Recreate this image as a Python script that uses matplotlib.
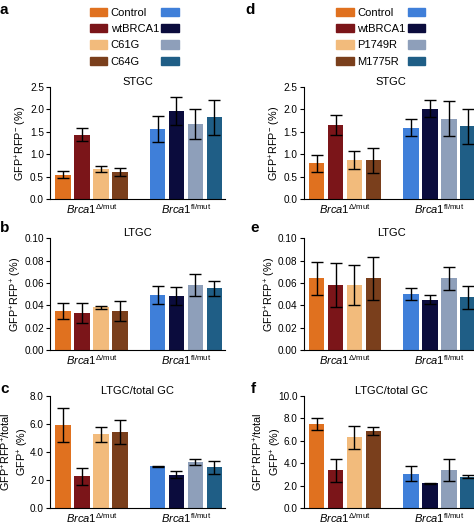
import matplotlib
matplotlib.use("Agg")
import matplotlib.pyplot as plt
from matplotlib.patches import Patch
import numpy as np

plt.rcParams['font.family'] = ['Liberation Sans', 'DejaVu Sans']
plt.rcParams['mathtext.fontset'] = 'custom'
plt.rcParams['mathtext.rm'] = 'Liberation Sans'
plt.rcParams['mathtext.it'] = 'Liberation Sans:italic'
plt.rcParams['font.size'] = 8

colors = ['#e0711f', '#7b1519', '#f2bb7c', '#7a3f1c',
          '#3f7fd9', '#0b0c3d', '#8e9fba', '#1f5e86']
blues_colors = colors[4:]
groups = [r'$\mathit{Brca1}^{\Delta/\mathrm{mut}}$', r'$\mathit{Brca1}^{\mathrm{fl/mut}}$']

legend_left = ['Control', 'wtBRCA1', 'C61G', 'C64G']
legend_right = ['Control', 'wtBRCA1', 'P1749R', 'M1775R']

# left column (a, b, c)
stgc_a = [0.55, 1.44, 0.68, 0.60, 1.57, 1.96, 1.68, 1.83]
stgc_a_err = [0.07, 0.15, 0.07, 0.09, 0.29, 0.31, 0.34, 0.39]
ltgc_b = [0.035, 0.033, 0.038, 0.035, 0.049, 0.048, 0.058, 0.055]
ltgc_b_err = [0.007, 0.009, 0.001, 0.009, 0.008, 0.008, 0.010, 0.007]
ratio_c = [5.9, 2.25, 5.25, 5.4, 2.98, 2.38, 3.3, 2.9]
ratio_c_err = [1.2, 0.62, 0.55, 0.85, 0.05, 0.25, 0.2, 0.45]

# right column (d, e, f)
stgc_d = [0.80, 1.65, 0.87, 0.87, 1.59, 2.02, 1.79, 1.62]
stgc_d_err = [0.19, 0.22, 0.20, 0.28, 0.19, 0.20, 0.39, 0.39]
ltgc_e = [0.064, 0.058, 0.058, 0.064, 0.050, 0.045, 0.064, 0.047]
ltgc_e_err = [0.015, 0.020, 0.018, 0.019, 0.005, 0.004, 0.010, 0.010]
ratio_f = [7.47, 3.35, 6.3, 6.85, 3.05, 2.2, 3.4, 2.8]
ratio_f_err = [0.52, 1.0, 1.0, 0.37, 0.68, 0.05, 0.95, 0.12]

ylab_stgc = 'GFP$^{+}$RFP$^{-}$ (%)'
ylab_ltgc = 'GFP$^{+}$RFP$^{+}$ (%)'
ylab_ratio = 'GFP$^{+}$RFP$^{+}$/total\nGFP$^{+}$ (%)'

xpos = np.array([0, 1, 2, 3, 5, 6, 7, 8])

fig = plt.figure(figsize=(4.74, 5.27), dpi=100)


def panel(rect, vals, errs, ymax, yticks, fmt, title, ylab, labx):
    ax = fig.add_axes(rect)
    ax.bar(xpos, vals, width=0.82, color=colors, yerr=errs,
           error_kw=dict(ecolor='black', elinewidth=1.0, capsize=4, capthick=1.0))
    ax.set_xlim(-0.68, 8.55)
    ax.set_ylim(0, ymax)
    ax.set_yticks(yticks)
    ax.set_yticklabels([fmt.format(t) for t in yticks])
    ax.spines['top'].set_visible(False)
    ax.spines['right'].set_visible(False)
    ax.set_xticks([1.5, 6.5])
    ax.set_xticklabels(groups, fontsize=8)
    ax.tick_params(axis='x', length=0, pad=2)
    ax.tick_params(axis='y', length=3, pad=1.5, labelsize=7.2)
    ax.set_title(title, fontsize=8, pad=1)
    ax.set_ylabel(ylab, fontsize=7.8, linespacing=1.3)
    ax.yaxis.set_label_coords(labx, 0.5)
    return ax


L1, L2, W = 0.106, 0.641, 0.368
panel([L1, 0.622, W, 0.213], stgc_a, stgc_a_err, 2.5, [0, 0.5, 1.0, 1.5, 2.0, 2.5], '{:.1f}', 'STGC', ylab_stgc, -0.12)
panel([L1, 0.336, W, 0.212], ltgc_b, ltgc_b_err, 0.10, [0, 0.02, 0.04, 0.06, 0.08, 0.10], '{:.2f}', 'LTGC', ylab_ltgc, -0.15)
panel([L1, 0.036, W, 0.213], ratio_c, ratio_c_err, 8.0, [0, 2, 4, 6, 8], '{:.1f}', 'LTGC/total GC', ylab_ratio, -0.108)
panel([L2, 0.622, W, 0.213], stgc_d, stgc_d_err, 2.5, [0, 0.5, 1.0, 1.5, 2.0, 2.5], '{:.1f}', 'STGC', ylab_stgc, -0.12)
panel([L2, 0.336, W, 0.212], ltgc_e, ltgc_e_err, 0.10, [0, 0.02, 0.04, 0.06, 0.08, 0.10], '{:.2f}', 'LTGC', ylab_ltgc, -0.15)
panel([L2, 0.036, W, 0.213], ratio_f, ratio_f_err, 10.0, [0, 2, 4, 6, 8, 10], '{:.1f}', 'LTGC/total GC', ylab_ratio, -0.115)

# legends
for names, x0 in [(legend_left, 0.168), (legend_right, 0.688)]:
    handles = [Patch(color=c) for c in colors[:4]] + [Patch(color=c) for c in blues_colors]
    labels = names + [''] * 4
    fig.legend(handles, labels, ncol=2, loc='upper left', bbox_to_anchor=(x0, 1.004),
               frameon=False, fontsize=8, handlelength=1.6, handleheight=0.75,
               labelspacing=0.56, columnspacing=0.2, handletextpad=0.3)

# panel letters
for letter, x, y in [('a', 0.0, 0.995), ('b', 0.0, 0.58), ('c', 0.0, 0.275),
                     ('d', 0.518, 0.995), ('e', 0.528, 0.58), ('f', 0.528, 0.275)]:
    fig.text(x, y, letter, fontsize=11, fontweight='bold', va='top', ha='left')

fig.savefig('out.png', dpi=100)
